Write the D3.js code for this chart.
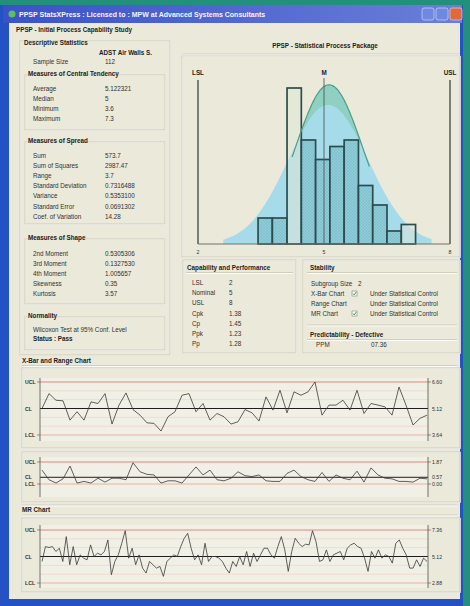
<!DOCTYPE html>
<html lang="en">
<head>
<meta charset="utf-8">
<title>PPSP StatsXPress</title>
<script src="https://cdn.jsdelivr.net/npm/d3@7"></script>
<style>
  body { margin: 0; background: #23907c; }
  svg { display: block; font-family: "Liberation Sans", Arial, sans-serif; }
  .t { font-size: 6.3px; fill: #303030; }
  .b { font-weight: bold; fill: #1c1c1c; }
  .s { font-size: 5.2px; fill: #303030; }
</style>
</head>
<body>
<script>

// ---- histogram data ----
var histEdges  = [3.43, 3.77, 4.12, 4.46, 4.80, 5.14, 5.48, 5.82, 6.16, 6.50, 6.84, 7.18];
var histCounts = [4, 4, 24, 16, 13, 15, 16, 9, 6, 2, 3];
var lightBins  = [2, 10];
var specLabels = ["LSL", "M", "USL"];
var specValues = [2, 5, 8];
// fitted curves: [centre, spread, peak height in counts]
var fitWithin  = [5.12, 0.80, 24.5];
var fitOverall = [5.10, 0.95, 21.4];

// ---- control chart data ----
var limitLabels = ["UCL", "CL", "LCL"];
var xbarLimits  = [6.60, 5.12, 3.64];
var xbarValues  = [5.12, 5.95, 5.58, 5.55, 4.47, 4.94, 4.47, 5.49, 5.40, 5.95,
                   4.25, 5.31, 5.99, 5.06, 4.75, 4.32, 4.29, 3.86, 4.66, 4.94,
                   5.86, 5.95, 4.94, 5.40, 4.47, 4.84, 4.66, 4.25, 4.38, 5.06,
                   4.88, 4.42, 5.77, 5.03, 6.14, 4.88, 6.05, 5.86, 6.05, 6.60,
                   4.75, 5.31, 5.31, 5.58, 5.03, 6.14, 4.84, 5.40, 5.31, 5.21,
                   4.75, 6.32, 5.31, 4.20, 4.57, 4.75];
var rangeLimits = [1.87, 0.57, 0.00];
var rangeValues = [1.18, 0.36, 0.08, 0.44, 1.53, 0.08, 0.22, 0.08, 0.49, 0.16,
                   0.49, 0.49, 0.36, 1.81, 1.04, 0.82, 0.77, 0.08, 0.27, 0.27,
                   0.08, 0.77, 1.45, 0.77, 1.18, 0.36, 0.27, 0.49, 1.04, 0.71,
                   0.63, 0.77, 0.27, 0.22, 0.22, 0.90, 1.18, 0.63, 0.36, 0.22,
                   0.98, 0.22, 0.77, 0.49, 0.36, 1.09, 0.16, 1.37, 0.77, 0.49,
                   0.44, 0.22, 0.22, 0.16, 0.49, 0.44];
var indivLimits = [7.36, 5.12, 2.88];
var indivValues = [4.70, 5.96, 5.88, 5.96, 5.54, 5.82, 4.70, 6.80, 4.42, 5.96,
                   4.42, 5.26, 4.98, 4.84, 6.10, 5.12, 5.40, 5.26, 5.54, 6.52,
                   3.58, 4.70, 5.26, 6.24, 7.30, 4.98, 5.82, 4.42, 5.26, 4.14,
                   3.72, 4.70, 4.42, 4.14, 4.28, 3.44, 4.70, 4.98, 5.26, 5.12,
                   5.96, 6.66, 7.08, 5.82, 4.84, 5.26, 4.42, 6.24, 4.70, 5.12,
                   5.12, 4.98, 4.70, 4.14, 3.72, 4.70, 4.28, 5.12, 4.42, 5.54,
                   4.28, 5.40, 4.70, 5.26, 5.82, 5.82, 5.26, 4.98, 5.96, 6.80,
                   5.68, 3.86, 5.54, 6.66, 6.24, 5.96, 6.16, 6.10, 7.30, 6.38,
                   4.70, 4.84, 5.68, 4.70, 5.26, 5.40, 5.54, 4.84, 5.82, 6.10,
                   6.24, 5.96, 5.82, 4.98, 3.86, 5.54, 4.98, 5.68, 4.98, 5.26,
                   5.12, 4.56, 6.24, 6.52, 5.82, 5.26, 4.14, 4.14, 4.84, 4.28,
                   4.98, 4.70];

// ---- statistics tables ----
var centralLabels = ["Average", "Median", "Minimum", "Maximum"];
var centralValues = ["5.122321", "5", "3.6", "7.3"];
var spreadLabels  = ["Sum", "Sum of Squares", "Range", "Standard Deviation", "Variance", "Standard Error", "Coef. of Variation"];
var spreadValues  = ["573.7", "2987.47", "3.7", "0.7316488", "0.5353100", "0.0691302", "14.28"];
var shapeLabels   = ["2nd Moment", "3rd Moment", "4th Moment", "Skewness", "Kurtosis"];
var shapeValues   = ["0.5305306", "0.1327530", "1.005657", "0.35", "3.57"];
var capLabels     = ["LSL", "Nominal", "USL", "Cpk", "Cp", "Ppk", "Pp"];
var capValues     = ["2", "5", "8", "1.38", "1.45", "1.23", "1.28"];
var stabLabels    = ["X-Bar Chart", "Range Chart", "MR Chart"];
var stabChecked   = [true, false, true];

var W = 470, H = 606;
var svg = d3.select("body").append("svg").attr("width", W).attr("height", H);
var defs = svg.append("defs");

// window chrome
var tg = defs.append("linearGradient").attr("id", "titleGrad");
tg.append("stop").attr("offset", "0%").attr("stop-color", "#3a52c8");
tg.append("stop").attr("offset", "100%").attr("stop-color", "#6a7ed8");
var hatch = defs.append("pattern").attr("id", "hatch").attr("width", 3).attr("height", 3)
  .attr("patternUnits", "userSpaceOnUse");
hatch.append("rect").attr("width", 3).attr("height", 3).attr("fill", "#88c9d3");
hatch.append("path").attr("d", "M0,0L3,3M3,0L0,3").attr("stroke", "#6fb0bc").attr("stroke-width", 0.5);

svg.append("rect").attr("width", W).attr("height", H).attr("fill", "#23907c");
svg.append("rect").attr("x", 0).attr("y", 5).attr("width", 463).attr("height", H - 5).attr("fill", "#2452c4");
svg.append("rect").attr("x", 3).attr("y", 5).attr("width", 459).attr("height", 18).attr("fill", "url(#titleGrad)");
svg.append("circle").attr("cx", 12).attr("cy", 14).attr("r", 3.5).attr("fill", "#5cbf5a");
svg.append("text").attr("x", 19).attr("y", 16.5).attr("font-size", 7).attr("font-weight", "bold")
  .attr("fill", "#f4f6ff").text("PPSP StatsXPress : Licensed to : MPW at Advanced Systems Consultants");
[[422, "#6f88e0"], [436, "#6f88e0"], [450, "#e0683a"]].forEach(function(b) {
  svg.append("rect").attr("x", b[0]).attr("y", 8).attr("width", 12).attr("height", 12).attr("rx", 2)
    .attr("fill", b[1]).attr("stroke", "#dfe6fa").attr("stroke-width", 0.6);
});
svg.append("rect").attr("x", 9).attr("y", 23).attr("width", 451).attr("height", 576).attr("fill", "#ebeada");

function txt(x, y, s, cls) {
  return svg.append("text").attr("x", x).attr("y", y).attr("class", cls || "t").text(s);
}
function box(x, y, w, h) {
  svg.append("rect").attr("x", x + 0.5).attr("y", y + 0.5).attr("width", w).attr("height", h)
    .attr("fill", "none").attr("stroke", "#ffffff").attr("stroke-width", 0.8);
  svg.append("rect").attr("x", x).attr("y", y).attr("width", w).attr("height", h)
    .attr("fill", "none").attr("stroke", "#c6c6b4").attr("stroke-width", 0.8);
}
function hline(x1, x2, y) {
  svg.append("line").attr("x1", x1).attr("x2", x2).attr("y1", y).attr("y2", y)
    .attr("stroke", "#c6c6b4").attr("stroke-width", 0.8);
  svg.append("line").attr("x1", x1).attr("x2", x2).attr("y1", y + 1).attr("y2", y + 1)
    .attr("stroke", "#ffffff").attr("stroke-width", 0.8);
}
function rows(labels, values, x1, x2, y0, step) {
  labels.forEach(function(l, i) {
    txt(x1, y0 + i * step, l);
    txt(x2, y0 + i * step, values[i]);
  });
}

// ---- left statistics panel ----
txt(16, 32, "PPSP - Initial Process Capability Study", "t b");
box(20, 41, 150, 314);
txt(24, 45, "Descriptive Statistics", "t b");
txt(99, 55, "ADST Air Walls S.", "t b");
txt(33, 64, "Sample Size");
txt(105, 64, "112");

box(25, 75, 140, 55);
txt(28, 76, "Measures of Central Tendency", "t b");
rows(centralLabels, centralValues, 33, 105, 90.5, 10.3);

box(25, 142, 140, 82);
txt(28, 143, "Measures of Spread", "t b");
rows(spreadLabels, spreadValues, 33, 105, 157.5, 10.2);

box(25, 239, 140, 65);
txt(28, 240, "Measures of Shape", "t b");
rows(shapeLabels, shapeValues, 33, 105, 255.5, 10);

box(25, 317, 140, 33);
txt(28, 318, "Normality", "t b");
txt(33, 331.5, "Wilcoxon Test at 95% Conf. Level");
txt(33, 341, "Status :  Pass", "t b");

// ---- histogram panel ----
svg.append("text").attr("x", 325).attr("y", 47.5).attr("text-anchor", "middle").attr("class", "t b")
  .text("PPSP - Statistical Process Package");
hline(182, 460, 54);
box(182, 56, 278, 201);

var x = d3.scaleLinear().domain([2, 8]).range([198, 450]);
var y = d3.scaleLinear().domain([0, 24]).range([244, 88]);
function bell(p) {
  return function(v) { return p[2] * Math.exp(-0.5 * Math.pow((v - p[0]) / p[1], 2)); };
}
var fWithin = bell(fitWithin);
var fOverall = bell(fitOverall);
var gridW = d3.range(2.8, 7.45, 0.04);
var gridO = d3.range(2.6, 7.6, 0.04);
var area = function(f) {
  return d3.area().x(function(d) { return x(d); }).y0(y(0)).y1(function(d) { return y(f(d)); })
    .curve(d3.curveBasis);
};
var line = function(f) {
  return d3.line().x(function(d) { return x(d); }).y(function(d) { return y(f(d)); })
    .curve(d3.curveBasis);
};
svg.append("path").datum(gridW).attr("d", area(fWithin)).attr("fill", "#8fd0c2");
svg.append("path").datum(gridO).attr("d", area(fOverall)).attr("fill", "#a6dcea");

// bars
svg.selectAll("rect.bar").data(histCounts).enter().append("rect")
  .attr("class", "bar")
  .attr("x", function(d, i) { return x(histEdges[i]); })
  .attr("y", function(d) { return y(d); })
  .attr("width", function(d, i) { return x(histEdges[i + 1]) - x(histEdges[i]); })
  .attr("height", function(d) { return y(0) - y(d); })
  .attr("fill", function(d, i) { return lightBins.indexOf(i) >= 0 ? "#dde6d6" : "url(#hatch)"; })
  .attr("fill-opacity", function(d, i) { return lightBins.indexOf(i) >= 0 ? 0.55 : 0.8; })
  .attr("stroke", "#2c4d50").attr("stroke-width", 1.7);

svg.append("path").datum(gridW.filter(function(d) { return d > 4.2 && d < 6.1; }))
  .attr("d", line(fWithin)).attr("fill", "none").attr("stroke", "#4f9a88").attr("stroke-width", 1.2);

// spec lines and axis
specValues.forEach(function(v, i) {
  var isMid = i === 1;
  svg.append("line").attr("x1", x(v)).attr("x2", x(v)).attr("y1", isMid ? 78 : 80).attr("y2", y(0))
    .attr("stroke", isMid ? "#505a58" : "#6c746c").attr("stroke-width", isMid ? 0.9 : 1.8);
  svg.append("text").attr("x", x(v)).attr("y", 75).attr("text-anchor", "middle").attr("class", "t b")
    .text(specLabels[i]);
  svg.append("text").attr("x", x(v)).attr("y", 254).attr("text-anchor", "middle").attr("class", "s")
    .text(v);
});
svg.append("line").attr("x1", x(2)).attr("x2", x(8)).attr("y1", y(0)).attr("y2", y(0))
  .attr("stroke", "#6c746c").attr("stroke-width", 1.2);

// ---- capability / stability panels ----
box(183, 260, 113, 93);
txt(187, 269.5, "Capability and Performance", "t b");
hline(186, 293, 272.5);
capLabels.forEach(function(l, i) {
  var c = i >= 5 ? "#6b78c4" : "#303030";
  txt(192, 285 + i * 10.2, l).attr("fill", c);
  txt(229, 285 + i * 10.2, capValues[i]);
});

box(303, 260, 157, 93);
txt(310, 269.5, "Stability", "t b");
hline(307, 457, 272.5);
txt(311, 286, "Subgroup Size");
txt(358, 286, "2");
stabLabels.forEach(function(l, i) {
  var yy = 296 + i * 10;
  txt(311, yy, l);
  if (stabChecked[i]) {
    svg.append("rect").attr("x", 352).attr("y", yy - 5).attr("width", 5).attr("height", 5)
      .attr("fill", "#ffffff").attr("stroke", "#707070").attr("stroke-width", 0.5);
    svg.append("path").attr("d", "M" + 353 + "," + (yy - 2.5) + "l1.2,1.4l2.2,-3")
      .attr("fill", "none").attr("stroke", "#208020").attr("stroke-width", 0.8);
  }
  txt(370, yy, "Under Statistical Control");
});
hline(307, 457, 325);
txt(310, 336.5, "Predictability - Defective", "t b");
hline(307, 457, 339.5);
txt(316, 347, "PPM").attr("fill", "#808080");
txt(371, 347, "07.36");

// ---- control charts ----
function controlChart(values, limits, yTop, yBot, axisTop, axisBot, zones) {
  var cx = d3.scaleLinear().domain([0, values.length - 1]).range([42, 427]);
  var cy = d3.scaleLinear().domain([limits[2], limits[0]]).range([yBot, yTop]);
  svg.append("rect").attr("x", 40).attr("y", axisTop).attr("width", 388).attr("height", axisBot - axisTop)
    .attr("fill", "#f1f0e6");
  if (zones) {
    [1, 2].forEach(function(k) {
      var d = (limits[0] - limits[1]) * k / 3;
      [limits[1] + d, limits[1] - d].forEach(function(v) {
        svg.append("line").attr("x1", 40).attr("x2", 428).attr("y1", cy(v)).attr("y2", cy(v))
          .attr("stroke", "#f0d4cc").attr("stroke-width", 0.8);
      });
    });
  }
  svg.append("line").attr("x1", 40).attr("x2", 428).attr("y1", cy(limits[0])).attr("y2", cy(limits[0]))
    .attr("stroke", "#e06a5a").attr("stroke-width", 0.8);
  svg.append("line").attr("x1", 40).attr("x2", 428).attr("y1", cy(limits[2])).attr("y2", cy(limits[2]))
    .attr("stroke", "#eca090").attr("stroke-width", 0.8);
  svg.append("line").attr("x1", 40).attr("x2", 428).attr("y1", cy(limits[1])).attr("y2", cy(limits[1]))
    .attr("stroke", "#1e1e1e").attr("stroke-width", 1);
  [40, 428].forEach(function(ax) {
    svg.append("line").attr("x1", ax).attr("x2", ax).attr("y1", axisTop).attr("y2", axisBot)
      .attr("stroke", "#505050").attr("stroke-width", 0.8);
    limits.forEach(function(v, i) {
      if (i === 1) return;
      svg.append("line").attr("x1", ax).attr("x2", ax === 40 ? ax - 3 : ax + 3)
        .attr("y1", cy(v)).attr("y2", cy(v)).attr("stroke", "#505050").attr("stroke-width", 0.6);
    });
  });
  svg.append("path").datum(values)
    .attr("d", d3.line().x(function(d, i) { return cx(i); }).y(function(d) { return cy(d); }))
    .attr("fill", "none").attr("stroke", "#3a3a3a").attr("stroke-width", 0.8);
  limits.forEach(function(v, i) {
    svg.append("text").attr("x", 25).attr("y", cy(v) + 2).attr("class", "s b").text(limitLabels[i]);
    svg.append("text").attr("x", 432).attr("y", cy(v) + 2).attr("class", "s").text(v.toFixed(2));
  });
}

txt(22, 363, "X-Bar and Range Chart", "t b");
hline(22, 457, 365.5);
box(22, 368, 438, 80);
controlChart(xbarValues, xbarLimits, 382, 435, 378, 441, true);

box(22, 452, 438, 50);
controlChart(rangeValues, rangeLimits, 462, 484, 457, 497, false);

hline(22, 457, 505);
txt(22, 512, "MR Chart", "t b");
hline(22, 457, 515);
box(22, 518, 438, 74);
controlChart(indivValues, indivLimits, 530, 583, 525, 588, true);

</script>
</body>
</html>
